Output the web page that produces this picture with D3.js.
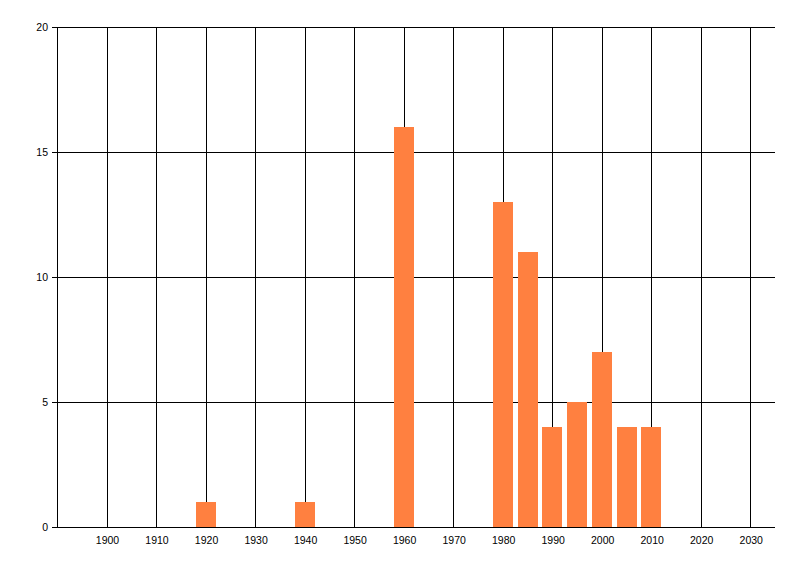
<!DOCTYPE html>
<html>
<head>
<meta charset="utf-8">
<script src="https://cdn.jsdelivr.net/npm/d3@7"></script>
<style>
  body { margin: 0; background: #fff; }
  text { font-family: "Liberation Sans", Arial, sans-serif; font-size: 10.5px; fill: #000; }
</style>
</head>
<body>
<svg width="800" height="576"></svg>
<script>
// data
var years = [1920, 1940, 1960, 1980, 1985, 1990, 1995, 2000, 2005, 2010];
var counts = [1, 1, 16, 13, 11, 4, 5, 7, 4, 4];
var xTicks = [1900, 1910, 1920, 1930, 1940, 1950, 1960, 1970, 1980, 1990, 2000, 2010, 2020, 2030];
var yTicks = [0, 5, 10, 15, 20];

var svg = d3.select("svg");

// plot area
var pLeft = 57, pRight = 775, pTop = 27, pBottom = 527;

var x = d3.scaleLinear().domain([1890, 2035]).range([pLeft, pRight]);
var y = d3.scaleLinear().domain([0, 20]).range([pBottom, pTop]);

var g = svg.append("g");

// vertical grid
g.selectAll("line.vgrid")
  .data(xTicks)
  .enter()
  .append("line")
    .attr("class", "vgrid")
    .attr("x1", d => Math.round(x(d)) + 0.5)
    .attr("x2", d => Math.round(x(d)) + 0.5)
    .attr("y1", pTop)
    .attr("y2", pBottom)
    .style("stroke", "#000");

// horizontal grid
g.selectAll("line.hgrid")
  .data(yTicks)
  .enter()
  .append("line")
    .attr("class", "hgrid")
    .attr("x1", pLeft - 5)
    .attr("x2", pRight)
    .attr("y1", d => Math.round(y(d)) + 0.5)
    .attr("y2", d => Math.round(y(d)) + 0.5)
    .style("stroke", "#000");

// bars
g.selectAll("rect")
  .data(years)
  .enter()
  .append("rect")
    .attr("x", d => Math.round(x(d - 2)))
    .attr("width", d => Math.round(x(d + 2) - x(d - 2)))
    .attr("y", (d, i) => Math.round(y(counts[i])))
    .attr("height", (d, i) => pBottom - Math.round(y(counts[i])))
    .style("fill", "#ff8040");

// y axis line
g.append("line")
  .attr("x1", pLeft + 0.5).attr("x2", pLeft + 0.5)
  .attr("y1", pTop).attr("y2", pBottom + 1)
  .style("stroke", "#000");

// x axis line
g.append("line")
  .attr("x1", pLeft).attr("x2", pRight)
  .attr("y1", pBottom + 0.5).attr("y2", pBottom + 0.5)
  .style("stroke", "#000");

// labels
g.selectAll("text.ylab")
  .data(yTicks)
  .enter()
  .append("text")
    .attr("class", "ylab")
    .attr("x", pLeft - 9)
    .attr("y", d => y(d) + 4)
    .attr("text-anchor", "end")
    .text(d => d);

g.selectAll("text.xlab")
  .data(xTicks)
  .enter()
  .append("text")
    .attr("class", "xlab")
    .attr("x", d => x(d) + 1)
    .attr("y", pBottom + 17)
    .attr("text-anchor", "middle")
    .text(d => d);
</script>
</body>
</html>
